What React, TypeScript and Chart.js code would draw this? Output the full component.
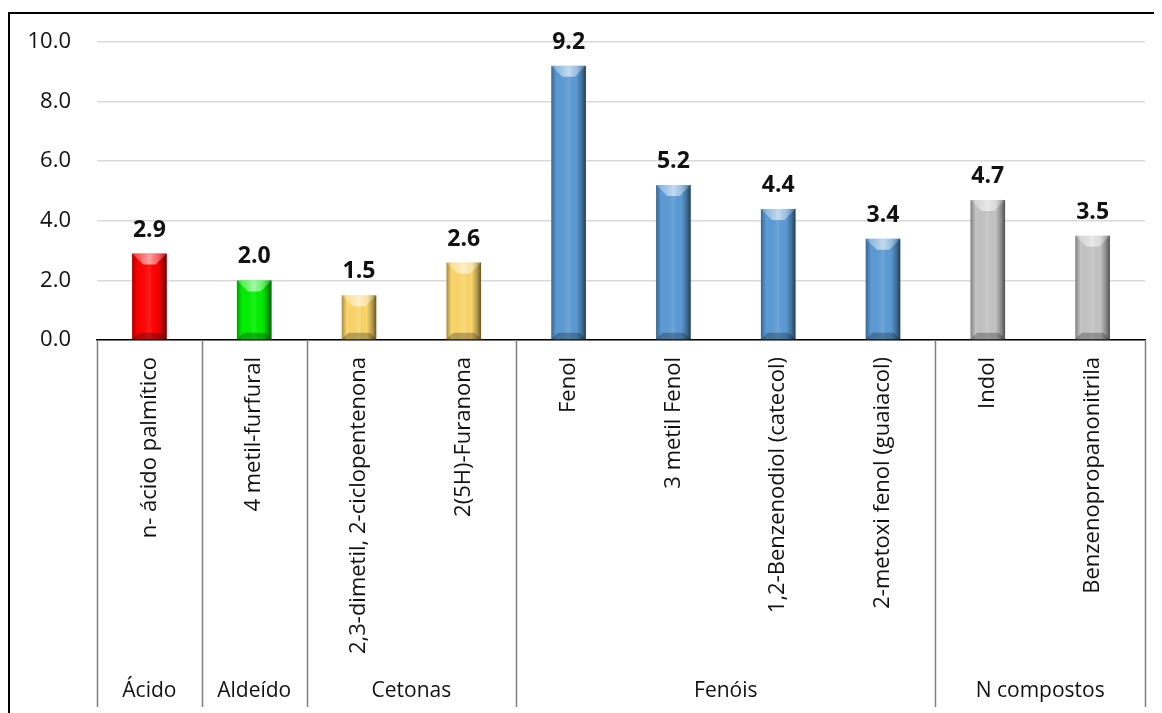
import React, { useEffect, useRef } from 'react';
import { Chart, registerables } from 'chart.js';

Chart.register(...registerables);

const categories = [
  'n- ácido palmítico',
  '4 metil-furfural',
  '2,3-dimetil, 2-ciclopentenona',
  '2(5H)-Furanona',
  'Fenol',
  '3 metil Fenol',
  '1,2-Benzenodiol (catecol)',
  '2-metoxi fenol (guaiacol)',
  'Indol',
  'Benzenopropanonitrila',
];
const values = [2.9, 2.0, 1.5, 2.6, 9.2, 5.2, 4.4, 3.4, 4.7, 3.5];
const barColors = [
  '#ff0000', '#00f000', '#fbd66a', '#fbd66a',
  '#5b9bd5', '#5b9bd5', '#5b9bd5', '#5b9bd5',
  '#c4c4c4', '#c4c4c4',
];
const groupNames = ['Ácido', 'Aldeído', 'Cetonas', 'Fenóis', 'N compostos'];
const groupSizes = [1, 1, 2, 4, 2];
const yMin = 0;
const yMax = 10;
const yStep = 2;

const FONT = "'Open Sans', sans-serif";
const W = 1154;
const H = 705;

const barStylePlugin = {
  id: 'barStyle',
  afterDatasetsDraw(chart: any) {
    const ctx = chart.ctx;
    const meta = chart.getDatasetMeta(0);
    ctx.save();
    meta.data.forEach((el: any) => {
      const { x, y, base, width } = el.getProps(['x', 'y', 'base', 'width'], true);
      const l = x - width / 2;
      const r = x + width / 2;
      const t = y;
      const b = base;
      const h = b - t;
      const bev = Math.min(11, h / 2);
      const g = ctx.createLinearGradient(l, 0, r, 0);
      g.addColorStop(0, 'rgba(0,0,0,0.35)');
      g.addColorStop(0.15, 'rgba(0,0,0,0.0)');
      g.addColorStop(0.5, 'rgba(255,255,255,0.10)');
      g.addColorStop(0.72, 'rgba(0,0,0,0.0)');
      g.addColorStop(0.88, 'rgba(0,0,0,0.28)');
      g.addColorStop(1, 'rgba(0,0,0,0.6)');
      ctx.fillStyle = g;
      ctx.fillRect(l, t, r - l, h);
      // top bevel
      const tg = ctx.createLinearGradient(l, 0, r, 0);
      tg.addColorStop(0, 'rgba(255,255,255,0.2)');
      tg.addColorStop(0.5, 'rgba(255,255,255,0.6)');
      tg.addColorStop(1, 'rgba(255,255,255,0.15)');
      ctx.beginPath();
      ctx.moveTo(l, t);
      ctx.lineTo(r, t);
      ctx.lineTo(r - bev, t + bev);
      ctx.lineTo(l + bev, t + bev);
      ctx.closePath();
      ctx.fillStyle = tg;
      ctx.fill();
      // bottom bevel
      ctx.beginPath();
      ctx.moveTo(l, b);
      ctx.lineTo(r, b);
      ctx.lineTo(r - bev * 0.6, b - bev * 0.6);
      ctx.lineTo(l + bev * 0.6, b - bev * 0.6);
      ctx.closePath();
      ctx.fillStyle = 'rgba(0,0,0,0.25)';
      ctx.fill();
    });
    ctx.fillStyle = '#111';
    ctx.font = `bold 23px ${FONT}`;
    ctx.textAlign = 'center';
    ctx.textBaseline = 'alphabetic';
    meta.data.forEach((el: any, i: number) => {
      const { x, y } = el.getProps(['x', 'y'], true);
      ctx.fillText(values[i].toFixed(1), x, y - 17);
    });
    ctx.restore();
  },
};

const groupPlugin = {
  id: 'groups',
  afterDraw(chart: any) {
    const xs = chart.scales.x;
    const ctx = chart.ctx;
    const half = (xs.getPixelForValue(1) - xs.getPixelForValue(0)) / 2;
    const top = xs.top;
    const bottom = H - 6;
    ctx.save();
    ctx.strokeStyle = '#7f7f7f';
    ctx.lineWidth = 1.5;
    let start = 0;
    const edges: number[] = [xs.getPixelForValue(0) - half];
    groupSizes.forEach((n) => {
      const end = start + n - 1;
      edges.push(xs.getPixelForValue(end) + half);
      start += n;
    });
    edges.forEach((ex) => {
      ctx.beginPath();
      ctx.moveTo(Math.round(ex) + 0.5, top);
      ctx.lineTo(Math.round(ex) + 0.5, bottom);
      ctx.stroke();
    });
    ctx.fillStyle = '#111';
    ctx.font = `21px ${FONT}`;
    ctx.textAlign = 'center';
    ctx.textBaseline = 'middle';
    groupNames.forEach((name, i) => {
      ctx.fillText(name, (edges[i] + edges[i + 1]) / 2, 683);
    });
    ctx.restore();
  },
};

export default function App() {
  const ref = useRef<HTMLCanvasElement | null>(null);
  useEffect(() => {
    if (!ref.current) return;
    const chart = new Chart(ref.current, {
      type: 'bar',
      data: {
        labels: categories,
        datasets: [
          {
            data: values,
            backgroundColor: barColors,
            borderWidth: 0,
            barPercentage: 0.33,
            categoryPercentage: 1,
          },
        ],
      },
      options: {
        responsive: false,
        animation: false,
        devicePixelRatio: 1,
        layout: { padding: { left: 0, right: 17, top: 34, bottom: 0 } },
        plugins: { legend: { display: false }, tooltip: { enabled: false } },
        scales: {
          x: {
            grid: { display: true, drawOnChartArea: false, drawTicks: false, color: 'rgba(0,0,0,0)' },
            border: { display: true, color: '#000', width: 1.5 },
            ticks: {
              autoSkip: false,
              minRotation: 90,
              maxRotation: 90,
              padding: 17,
              color: '#111',
              font: { family: FONT, size: 22 },
            },
            afterFit: (s: any) => {
              s.height = 373;
            },
          },
          y: {
            min: yMin,
            max: yMax,
            grid: {
              color: '#d9d9d9',
              lineWidth: 1.5,
              drawTicks: true,
              tickLength: 26,
              tickColor: 'rgba(0,0,0,0)',
            },
            border: { display: false },
            ticks: {
              stepSize: yStep,
              padding: 0,
              color: '#111',
              font: { family: FONT, size: 22 },
              callback: (v: any) => Number(v).toFixed(1),
            },
            afterFit: (s: any) => {
              s.width = 89;
            },
          },
        },
      },
      plugins: [barStylePlugin, groupPlugin],
    });
    return () => chart.destroy();
  }, []);

  return (
    <div style={{ position: 'relative', width: W, height: H }}>
      <style>{'html,body{overflow:hidden}'}</style>
      <canvas ref={ref} width={W} height={H} style={{ position: 'absolute', left: 0, top: 0, display: 'block' }} />
      <div
        style={{
          position: 'absolute',
          left: 0,
          top: 4,
          width: W,
          height: H - 4,
          borderTop: '2px solid #000',
          borderLeft: '2px solid #000',
          boxSizing: 'border-box',
          pointerEvents: 'none',
        }}
      />
    </div>
  );
}
